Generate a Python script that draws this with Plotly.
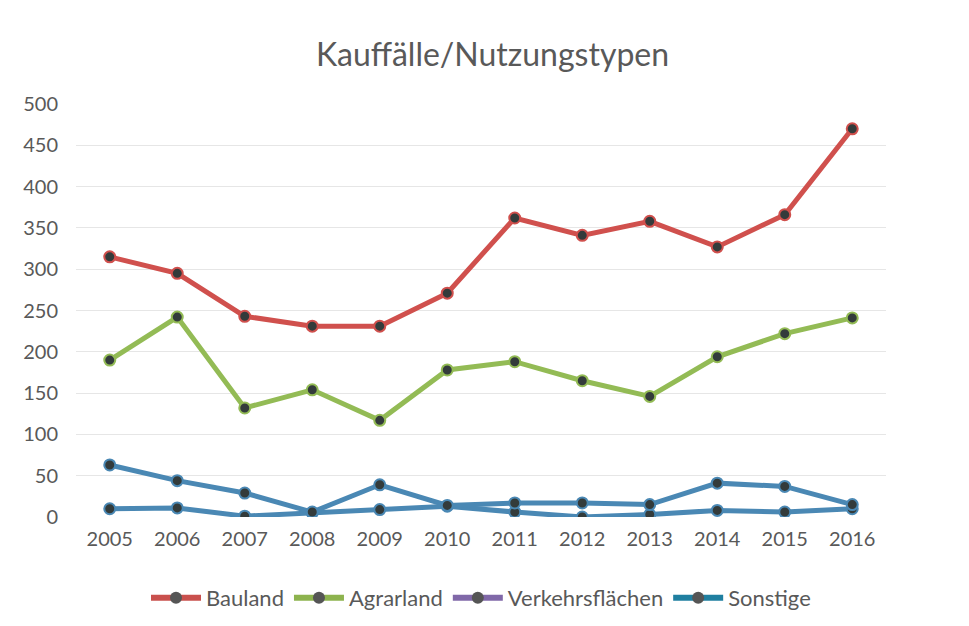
import plotly.graph_objects as go

# Daten
jahre = ["2005", "2006", "2007", "2008", "2009", "2010",
         "2011", "2012", "2013", "2014", "2015", "2016"]
bauland = [315, 295, 243, 231, 231, 271, 362, 341, 358, 327, 366, 470]
agrarland = [190, 242, 132, 154, 117, 178, 188, 165, 146, 194, 222, 241]
verkehrsflaechen = [10, 11, 1, 5, 9, 13, 6, 0, 3, 8, 6, 10]
sonstige = [63, 44, 29, 6, 39, 14, 17, 17, 15, 41, 37, 15]

namen = ["Bauland", "Agrarland", "Verkehrsflächen", "Sonstige"]
legend_farben = ["#c9504d", "#8db34e", "#8068a8", "#1f7fa0"]
linien_farben = ["#d0504d", "#93bb55", "#4a88b4", "#4a88b4"]
werte = [bauland, agrarland, verkehrsflaechen, sonstige]
marker_farbe = "#333b3b"
schrift = "Lato, Open Sans, sans-serif"

fig = go.Figure()

# 1. Linien (ohne Legende) - im Bild erscheinen beide unteren Linien blau
for name, y, col in zip(namen, werte, linien_farben):
    fig.add_trace(go.Scatter(
        x=jahre, y=y, name=name, mode="lines+markers",
        line=dict(color=col, width=5),
        marker=dict(color=marker_farbe, size=11, line=dict(color=col, width=2)),
        showlegend=False,
    ))

# 2. Legendeneinträge mit den Farben der Legende
for name, col in zip(namen, legend_farben):
    fig.add_trace(go.Scatter(
        x=[None], y=[None], name=name, mode="lines+markers",
        line=dict(color=col, width=6),
        marker=dict(color="#555555", size=12),
    ))

fig.update_layout(
    width=969, height=626,
    plot_bgcolor="white", paper_bgcolor="white",
    font=dict(family=schrift, color="#595959", size=20),
    title=dict(text="Kauffälle/Nutzungstypen", x=0.5, xanchor="center",
               y=0.925, yanchor="middle",
               font=dict(size=32, color="#595959", family=schrift)),
    margin=dict(l=68, r=91, t=96, b=117),
    legend=dict(orientation="h", x=0.5, xanchor="center", y=-0.196, yanchor="middle",
                font=dict(size=22, color="#595959"), itemwidth=50,
                traceorder="normal"),
    xaxis=dict(type="category", range=[-0.5, 11.5], showgrid=False, zeroline=False,
               showline=False, ticks="", automargin=False, ticklabelstandoff=8,
               tickfont=dict(size=20, color="#595959")),
    yaxis=dict(range=[0, 500], dtick=50, gridcolor="#e6e6e6", gridwidth=1,
               zeroline=False, showline=False, ticks="", ticklabelstandoff=17,
               automargin=False, tickfont=dict(size=20, color="#595959")),
)

fig.write_html("out.html")
